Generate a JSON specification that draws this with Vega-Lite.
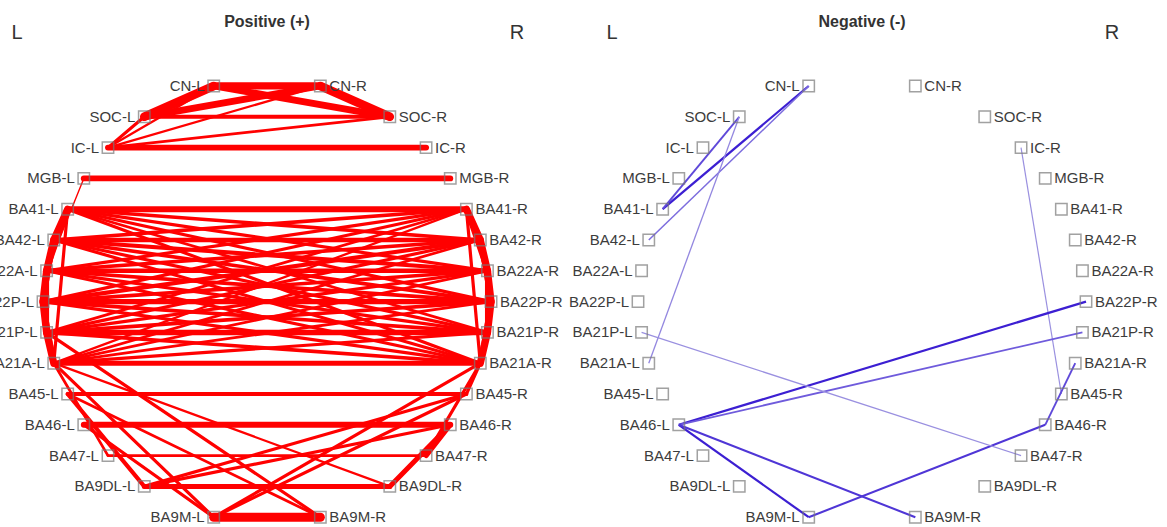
{
  "$schema": "https://vega.github.io/schema/vega-lite/v6.json",
  "padding": 0,
  "spacing": 0,
  "bounds": "flush",
  "background": "white",
  "resolve": {"scale": {"strokeWidth": "independent", "color": "independent"}},
  "config": {"view": {"stroke": null}, "concat": {"spacing": 0}},
  "datasets": {
    "nodes": [
      {"name": "CN-L", "side": "L", "row": 0, "x": -0.238},
      {"name": "SOC-L", "side": "L", "row": 1, "x": -0.548},
      {"name": "IC-L", "side": "L", "row": 2, "x": -0.71},
      {"name": "MGB-L", "side": "L", "row": 3, "x": -0.818},
      {"name": "BA41-L", "side": "L", "row": 4, "x": -0.89},
      {"name": "BA42-L", "side": "L", "row": 5, "x": -0.952},
      {"name": "BA22A-L", "side": "L", "row": 6, "x": -0.984},
      {"name": "BA22P-L", "side": "L", "row": 7, "x": -1.0},
      {"name": "BA21P-L", "side": "L", "row": 8, "x": -0.984},
      {"name": "BA21A-L", "side": "L", "row": 9, "x": -0.952},
      {"name": "BA45-L", "side": "L", "row": 10, "x": -0.89},
      {"name": "BA46-L", "side": "L", "row": 11, "x": -0.818},
      {"name": "BA47-L", "side": "L", "row": 12, "x": -0.71},
      {"name": "BA9DL-L", "side": "L", "row": 13, "x": -0.548},
      {"name": "BA9M-L", "side": "L", "row": 14, "x": -0.238},
      {"name": "CN-R", "side": "R", "row": 0, "x": 0.238},
      {"name": "SOC-R", "side": "R", "row": 1, "x": 0.548},
      {"name": "IC-R", "side": "R", "row": 2, "x": 0.71},
      {"name": "MGB-R", "side": "R", "row": 3, "x": 0.818},
      {"name": "BA41-R", "side": "R", "row": 4, "x": 0.89},
      {"name": "BA42-R", "side": "R", "row": 5, "x": 0.952},
      {"name": "BA22A-R", "side": "R", "row": 6, "x": 0.984},
      {"name": "BA22P-R", "side": "R", "row": 7, "x": 1.0},
      {"name": "BA21P-R", "side": "R", "row": 8, "x": 0.984},
      {"name": "BA21A-R", "side": "R", "row": 9, "x": 0.952},
      {"name": "BA45-R", "side": "R", "row": 10, "x": 0.89},
      {"name": "BA46-R", "side": "R", "row": 11, "x": 0.818},
      {"name": "BA47-R", "side": "R", "row": 12, "x": 0.71},
      {"name": "BA9DL-R", "side": "R", "row": 13, "x": 0.548},
      {"name": "BA9M-R", "side": "R", "row": 14, "x": 0.238}
    ],
    "pos": [
      {"s": "CN-L", "t": "CN-R", "w": 0.75},
      {"s": "CN-L", "t": "SOC-L", "w": 0.9},
      {"s": "CN-R", "t": "SOC-R", "w": 0.9},
      {"s": "CN-L", "t": "SOC-R", "w": 0.7},
      {"s": "CN-R", "t": "SOC-L", "w": 0.7},
      {"s": "SOC-L", "t": "SOC-R", "w": 0.4},
      {"s": "IC-L", "t": "SOC-L", "w": 0.3},
      {"s": "IC-L", "t": "CN-L", "w": 0.2},
      {"s": "IC-L", "t": "CN-R", "w": 0.2},
      {"s": "IC-L", "t": "SOC-R", "w": 0.25},
      {"s": "IC-L", "t": "IC-R", "w": 0.6},
      {"s": "MGB-L", "t": "MGB-R", "w": 0.6},
      {"s": "MGB-L", "t": "BA22A-L", "w": 0.1},
      {"s": "BA41-L", "t": "BA41-R", "w": 0.6},
      {"s": "BA41-L", "t": "BA42-R", "w": 0.35},
      {"s": "BA41-L", "t": "BA22A-R", "w": 0.3},
      {"s": "BA41-L", "t": "BA22P-R", "w": 0.3},
      {"s": "BA41-L", "t": "BA21P-R", "w": 0.25},
      {"s": "BA41-L", "t": "BA21A-R", "w": 0.3},
      {"s": "BA42-L", "t": "BA41-R", "w": 0.35},
      {"s": "BA42-L", "t": "BA42-R", "w": 0.45},
      {"s": "BA42-L", "t": "BA22A-R", "w": 0.4},
      {"s": "BA42-L", "t": "BA22P-R", "w": 0.35},
      {"s": "BA42-L", "t": "BA21P-R", "w": 0.3},
      {"s": "BA42-L", "t": "BA21A-R", "w": 0.3},
      {"s": "BA22A-L", "t": "BA41-R", "w": 0.3},
      {"s": "BA22A-L", "t": "BA42-R", "w": 0.35},
      {"s": "BA22A-L", "t": "BA22A-R", "w": 0.45},
      {"s": "BA22A-L", "t": "BA22P-R", "w": 0.35},
      {"s": "BA22A-L", "t": "BA21P-R", "w": 0.3},
      {"s": "BA22A-L", "t": "BA21A-R", "w": 0.3},
      {"s": "BA22P-L", "t": "BA41-R", "w": 0.3},
      {"s": "BA22P-L", "t": "BA42-R", "w": 0.4},
      {"s": "BA22P-L", "t": "BA22A-R", "w": 0.35},
      {"s": "BA22P-L", "t": "BA22P-R", "w": 0.55},
      {"s": "BA22P-L", "t": "BA21P-R", "w": 0.35},
      {"s": "BA22P-L", "t": "BA21A-R", "w": 0.3},
      {"s": "BA21P-L", "t": "BA41-R", "w": 0.25},
      {"s": "BA21P-L", "t": "BA42-R", "w": 0.3},
      {"s": "BA21P-L", "t": "BA22A-R", "w": 0.3},
      {"s": "BA21P-L", "t": "BA22P-R", "w": 0.35},
      {"s": "BA21P-L", "t": "BA21P-R", "w": 0.55},
      {"s": "BA21P-L", "t": "BA21A-R", "w": 0.35},
      {"s": "BA21A-L", "t": "BA41-R", "w": 0.2},
      {"s": "BA21A-L", "t": "BA42-R", "w": 0.25},
      {"s": "BA21A-L", "t": "BA22A-R", "w": 0.25},
      {"s": "BA21A-L", "t": "BA22P-R", "w": 0.25},
      {"s": "BA21A-L", "t": "BA21P-R", "w": 0.3},
      {"s": "BA21A-L", "t": "BA21A-R", "w": 0.5},
      {"s": "BA41-L", "t": "BA42-L", "w": 0.75},
      {"s": "BA42-L", "t": "BA22A-L", "w": 0.75},
      {"s": "BA22A-L", "t": "BA22P-L", "w": 0.75},
      {"s": "BA22P-L", "t": "BA21P-L", "w": 0.75},
      {"s": "BA21P-L", "t": "BA21A-L", "w": 0.75},
      {"s": "BA41-L", "t": "BA22A-L", "w": 0.5},
      {"s": "BA42-L", "t": "BA22P-L", "w": 0.5},
      {"s": "BA22A-L", "t": "BA21P-L", "w": 0.5},
      {"s": "BA22P-L", "t": "BA21A-L", "w": 0.5},
      {"s": "BA41-L", "t": "BA21A-L", "w": 0.3},
      {"s": "BA41-R", "t": "BA42-R", "w": 0.75},
      {"s": "BA42-R", "t": "BA22A-R", "w": 0.75},
      {"s": "BA22A-R", "t": "BA22P-R", "w": 0.75},
      {"s": "BA22P-R", "t": "BA21P-R", "w": 0.75},
      {"s": "BA21P-R", "t": "BA21A-R", "w": 0.75},
      {"s": "BA41-R", "t": "BA22A-R", "w": 0.5},
      {"s": "BA42-R", "t": "BA22P-R", "w": 0.5},
      {"s": "BA22A-R", "t": "BA21P-R", "w": 0.5},
      {"s": "BA22P-R", "t": "BA21A-R", "w": 0.5},
      {"s": "BA41-R", "t": "BA21A-R", "w": 0.3},
      {"s": "BA45-L", "t": "BA45-R", "w": 0.4},
      {"s": "BA46-L", "t": "BA46-R", "w": 0.6},
      {"s": "BA47-L", "t": "BA47-R", "w": 0.25},
      {"s": "BA9DL-L", "t": "BA9DL-R", "w": 0.5},
      {"s": "BA9M-L", "t": "BA9M-R", "w": 0.95},
      {"s": "BA45-L", "t": "BA9DL-L", "w": 0.4},
      {"s": "BA46-L", "t": "BA9M-L", "w": 0.3},
      {"s": "BA46-R", "t": "BA9DL-R", "w": 0.5},
      {"s": "BA46-R", "t": "BA47-R", "w": 0.5},
      {"s": "BA21A-L", "t": "BA9M-L", "w": 0.3},
      {"s": "BA21P-L", "t": "BA9M-R", "w": 0.3},
      {"s": "BA21A-L", "t": "BA47-L", "w": 0.25},
      {"s": "BA21A-L", "t": "BA9DL-R", "w": 0.2},
      {"s": "BA21A-R", "t": "BA9M-L", "w": 0.3},
      {"s": "BA45-R", "t": "BA9M-L", "w": 0.3},
      {"s": "BA9DL-L", "t": "BA46-R", "w": 0.3},
      {"s": "BA9DL-L", "t": "BA45-R", "w": 0.3},
      {"s": "BA21A-R", "t": "BA47-R", "w": 0.3},
      {"s": "BA21A-R", "t": "BA45-R", "w": 0.3},
      {"s": "BA45-L", "t": "BA9M-R", "w": 0.25}
    ],
    "neg": [
      {"s": "CN-L", "t": "BA41-L", "w": 0.9},
      {"s": "CN-L", "t": "BA42-L", "w": 0.5},
      {"s": "SOC-L", "t": "BA41-L", "w": 0.7},
      {"s": "SOC-L", "t": "BA21A-L", "w": 0.35},
      {"s": "IC-R", "t": "BA45-R", "w": 0.3},
      {"s": "BA21A-R", "t": "BA46-R", "w": 0.7},
      {"s": "BA46-R", "t": "BA9M-L", "w": 0.8},
      {"s": "BA46-L", "t": "BA22P-R", "w": 0.9},
      {"s": "BA46-L", "t": "BA21P-R", "w": 0.6},
      {"s": "BA46-L", "t": "BA9M-L", "w": 0.9},
      {"s": "BA46-L", "t": "BA9M-R", "w": 0.8},
      {"s": "BA21P-L", "t": "BA47-R", "w": 0.3}
    ],
    "titlesPos": [
      {"label": "Positive (+)", "x": 0, "row": -2.08}
    ],
    "titlesNeg": [
      {"label": "Negative (-)", "x": 0, "row": -2.08}
    ],
    "sides": [
      {"label": "L", "x": -1.116, "row": -1.72},
      {"label": "R", "x": 1.116, "row": -1.72}
    ]
  },
  "hconcat": [
    {
      "width": 595,
      "height": 527,
      "layer": [
        {
          "data": {"name": "pos"},
          "transform": [
            {"lookup": "s", "from": {"data": {"name": "nodes"}, "key": "name", "fields": ["x", "row"]}, "as": ["sx", "sr"]},
            {"lookup": "t", "from": {"data": {"name": "nodes"}, "key": "name", "fields": ["x", "row"]}, "as": ["tx", "tr"]}
          ],
          "mark": {"type": "rule", "color": "#ff0000", "strokeCap": "round", "clip": true},
          "encoding": {
            "x": {"field": "sx", "type": "quantitative", "scale": {"domain": [-1.192, 1.464], "zero": false, "nice": false}, "axis": null},
            "y": {"field": "sr", "type": "quantitative", "scale": {"domain": [-2.792, 14.318], "zero": false, "nice": false, "reverse": true}, "axis": null},
            "x2": {"field": "tx"},
            "y2": {"field": "tr"},
            "strokeWidth": {"field": "w", "type": "quantitative", "scale": {"domain": [0, 1], "range": [0.5, 9.5]}, "legend": null}
          }
        },
        {
          "data": {"name": "nodes"},
          "mark": {"type": "point", "shape": "square", "filled": false, "size": 130, "stroke": "#7a7a7a", "strokeWidth": 1.5, "clip": true},
          "encoding": {
            "x": {"field": "x", "type": "quantitative"},
            "y": {"field": "row", "type": "quantitative"}
          }
        },
        {
          "data": {"name": "nodes"},
          "transform": [{"filter": "datum.side === 'L'"}],
          "mark": {"type": "text", "align": "right", "baseline": "middle", "dx": -9, "font": "Liberation Sans", "fontSize": 15, "color": "#3c3c3c", "clip": true},
          "encoding": {
            "x": {"field": "x", "type": "quantitative"},
            "y": {"field": "row", "type": "quantitative"},
            "text": {"field": "name"}
          }
        },
        {
          "data": {"name": "nodes"},
          "transform": [{"filter": "datum.side === 'R'"}],
          "mark": {"type": "text", "align": "left", "baseline": "middle", "dx": 9, "font": "Liberation Sans", "fontSize": 15, "color": "#3c3c3c"},
          "encoding": {
            "x": {"field": "x", "type": "quantitative"},
            "y": {"field": "row", "type": "quantitative"},
            "text": {"field": "name"}
          }
        },
        {
          "data": {"name": "titlesPos"},
          "mark": {"type": "text", "align": "center", "baseline": "middle", "font": "Liberation Sans", "fontSize": 16, "fontWeight": "bold", "color": "#333333"},
          "encoding": {
            "x": {"field": "x", "type": "quantitative"},
            "y": {"field": "row", "type": "quantitative"},
            "text": {"field": "label"}
          }
        },
        {
          "data": {"name": "sides"},
          "mark": {"type": "text", "align": "center", "baseline": "middle", "font": "Liberation Sans", "fontSize": 20, "color": "#333333"},
          "encoding": {
            "x": {"field": "x", "type": "quantitative"},
            "y": {"field": "row", "type": "quantitative"},
            "text": {"field": "label"}
          }
        }
      ]
    },
    {
      "width": 572,
      "height": 527,
      "layer": [
        {
          "data": {"name": "neg"},
          "transform": [
            {"lookup": "s", "from": {"data": {"name": "nodes"}, "key": "name", "fields": ["x", "row"]}, "as": ["sx", "sr"]},
            {"lookup": "t", "from": {"data": {"name": "nodes"}, "key": "name", "fields": ["x", "row"]}, "as": ["tx", "tr"]}
          ],
          "mark": {"type": "rule", "strokeCap": "butt"},
          "encoding": {
            "x": {"field": "sx", "type": "quantitative", "scale": {"domain": [-1.192, 1.3616], "zero": false, "nice": false}, "axis": null},
            "y": {"field": "sr", "type": "quantitative", "scale": {"domain": [-2.792, 14.318], "zero": false, "nice": false, "reverse": true}, "axis": null},
            "x2": {"field": "tx"},
            "y2": {"field": "tr"},
            "strokeWidth": {"field": "w", "type": "quantitative", "scale": {"domain": [0, 1], "range": [0.7, 2.4]}, "legend": null},
            "color": {"field": "w", "type": "quantitative", "scale": {"domain": [0.3, 0.9], "range": ["#9a90e0", "#3c1fd2"]}, "legend": null}
          }
        },
        {
          "data": {"name": "nodes"},
          "mark": {"type": "point", "shape": "square", "filled": false, "size": 130, "stroke": "#7a7a7a", "strokeWidth": 1.5},
          "encoding": {
            "x": {"field": "x", "type": "quantitative"},
            "y": {"field": "row", "type": "quantitative"}
          }
        },
        {
          "data": {"name": "nodes"},
          "transform": [{"filter": "datum.side === 'L'"}],
          "mark": {"type": "text", "align": "right", "baseline": "middle", "dx": -9, "font": "Liberation Sans", "fontSize": 15, "color": "#3c3c3c"},
          "encoding": {
            "x": {"field": "x", "type": "quantitative"},
            "y": {"field": "row", "type": "quantitative"},
            "text": {"field": "name"}
          }
        },
        {
          "data": {"name": "nodes"},
          "transform": [{"filter": "datum.side === 'R'"}],
          "mark": {"type": "text", "align": "left", "baseline": "middle", "dx": 9, "font": "Liberation Sans", "fontSize": 15, "color": "#3c3c3c", "clip": true},
          "encoding": {
            "x": {"field": "x", "type": "quantitative"},
            "y": {"field": "row", "type": "quantitative"},
            "text": {"field": "name"}
          }
        },
        {
          "data": {"name": "titlesNeg"},
          "mark": {"type": "text", "align": "center", "baseline": "middle", "font": "Liberation Sans", "fontSize": 16, "fontWeight": "bold", "color": "#333333"},
          "encoding": {
            "x": {"field": "x", "type": "quantitative"},
            "y": {"field": "row", "type": "quantitative"},
            "text": {"field": "label"}
          }
        },
        {
          "data": {"name": "sides"},
          "mark": {"type": "text", "align": "center", "baseline": "middle", "font": "Liberation Sans", "fontSize": 20, "color": "#333333"},
          "encoding": {
            "x": {"field": "x", "type": "quantitative"},
            "y": {"field": "row", "type": "quantitative"},
            "text": {"field": "label"}
          }
        }
      ]
    }
  ]
}
